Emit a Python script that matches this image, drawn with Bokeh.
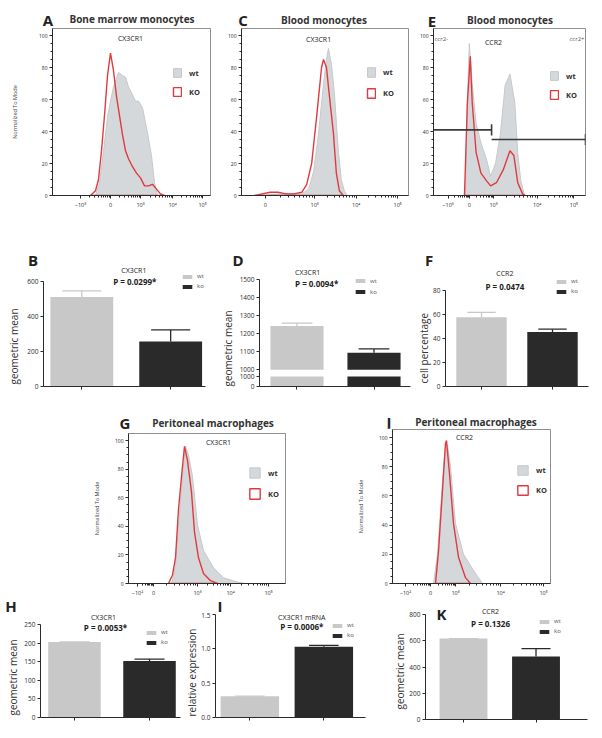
import math
from bokeh.plotting import figure
from bokeh.layouts import row, column
from bokeh.models import Range1d, Label, Legend, LegendItem, FixedTicker, Spacer, Title, Div
from bokeh.embed import file_html
from bokeh.resources import INLINE

FONT = "Open Sans"
RED = "#e03a40"
WT_FILL = "#d5d8da"
WT_LINE = "#c6c9cb"
WT_BAR = "#c8c8c8"
KO_BAR = "#2a2a2a"
INK = "#2b2b2b"

# ---------------- DATA ----------------
groups = ["wt", "ko"]
hist_y_ticks = [0, 20, 40, 60, 80, 100]

# A  CX3CR1, bone marrow monocytes (x in display channels, "0" tick at 0)
a_ticks = [-3.0, 0.0, 3.0, 6.2, 9.2]
a_tick_labels = ["−10³", "0", "10³", "10⁴", "10⁵"]
a_wt_x = [-1.5, -1.1, -0.7, -0.3, 0.0, 0.3, 0.8, 1.2, 1.5, 1.8, 2.2, 2.5, 2.8, 3.2, 3.7, 4.1, 4.4, 4.7]
a_wt_y = [0, 8, 28, 49, 59, 68, 77, 75, 74, 68, 63, 59, 59, 55, 39, 25, 8, 0]
a_ko_x = [-2.0, -1.5, -1.2, -0.9, -0.6, -0.3, 0.0, 0.3, 0.6, 0.9, 1.2, 1.5, 1.8, 2.2, 2.6, 3.0, 3.4, 3.8, 4.2, 4.6, 5.0, 5.4]
a_ko_y = [0, 3, 10, 28, 50, 75, 89, 78, 62, 50, 38, 28, 23, 18, 14, 11, 6, 6, 7, 4, 1, 0]

# C  CX3CR1, blood monocytes
c_ticks = [0.0, 5.0, 9.2, 13.4]
c_tick_labels = ["0", "10³", "10⁴", "10⁵"]
c_wt_x = [-0.5, 1.7, 3.7, 4.4, 4.9, 5.4, 5.9, 6.2, 6.4, 6.7, 7.0, 7.4, 7.7, 8.0, 8.3]
c_wt_y = [0, 1, 1, 4, 15, 39, 70, 85, 92, 82, 64, 28, 10, 3, 0]
c_ko_x = [-1.1, -0.3, 0.5, 1.3, 2.1, 2.9, 3.7, 4.2, 4.7, 5.2, 5.7, 5.9, 6.2, 6.5, 6.9, 7.2, 7.5, 7.9]
c_ko_y = [0, 1, 2, 2, 1, 1, 2, 7, 20, 49, 80, 85, 80, 62, 39, 14, 3, 0]

# E  CCR2, blood monocytes
e_ticks = [-2.2, 0.0, 2.5, 7.0, 10.8]
e_tick_labels = ["−10³", "0", "10³", "10⁴", "10⁵"]
e_wt_x = [-0.4, -0.2, 0.0, 0.3, 0.7, 1.2, 1.8, 2.2, 2.7, 3.2, 3.7, 4.2, 4.7, 5.0, 5.3, 5.7]
e_wt_y = [0, 60, 95, 70, 45, 33, 22, 12, 20, 38, 69, 76, 58, 27, 10, 0]
e_ko_x = [-0.5, -0.2, 0.1, 0.3, 0.7, 1.2, 1.8, 2.2, 2.8, 3.5, 4.2, 4.6, 5.0, 5.5, 5.8]
e_ko_y = [0, 58, 87, 58, 27, 14, 9, 6, 8, 16, 28, 25, 8, 1, 0]
e_gate_names = ["ccr2-", "ccr2+"]
e_gate_x0 = [-3.7, 2.3]
e_gate_x1 = [2.3, 12.0]
e_gate_y = [41, 35]

# G  CX3CR1, peritoneal macrophages
g_ticks = [-1.6, 0.0, 4.4, 7.7, 11.5]
g_tick_labels = ["−10²", "0", "10³", "10⁴", "10⁵"]
g_wt_x = [1.8, 2.2, 2.5, 2.9, 3.2, 3.5, 3.9, 4.4, 5.0, 6.0, 7.0, 8.4, 9.2]
g_wt_y = [0, 12, 40, 75, 96, 90, 75, 41, 23, 11, 4, 1, 0]
g_ko_x = [1.5, 1.9, 2.2, 2.5, 2.9, 3.1, 3.4, 3.8, 4.1, 4.5, 5.0, 5.7, 6.4]
g_ko_y = [0, 6, 18, 52, 82, 96, 86, 64, 36, 18, 7, 2, 0]

# J  CCR2, peritoneal macrophages
j_ticks = [-2.5, 0.0, 2.5, 7.0, 11.3]
j_tick_labels = ["−10²", "0", "10³", "10⁴", "10⁵"]
j_wt_x = [0.3, 0.7, 1.1, 1.4, 1.7, 2.0, 2.5, 3.3, 4.3, 5.2]
j_wt_y = [0, 20, 60, 88, 95, 80, 41, 20, 9, 0]
j_ko_x = [0.5, 0.8, 1.2, 1.5, 1.6, 1.9, 2.3, 2.8, 3.5, 4.0]
j_ko_y = [0, 22, 64, 96, 98, 75, 41, 18, 4, 0]

# bar panels: mean and mean + SEM
b_mean = [510, 256]
b_err = [545, 322]
d_mean = [1242, 1093]
d_err = [1258, 1115]
d_break = 1000
f_mean = [58, 45.7]
f_err = [62, 48]
h_mean = [203, 152]
h_err = [203, 157]
i_mean = [0.31, 1.03]
i_err = [0.31, 1.05]
k_mean = [617, 480]
k_err = [617, 540]


# ---------------- helpers ----------------
def make_fig(cell, frame, xr, yr):
    cx, cy, cw, ch = cell
    l, t, r, b = frame
    p = figure(width=cw, height=ch, x_range=Range1d(*xr), y_range=Range1d(*yr),
               title=None, output_backend="svg", toolbar_location=None,
               min_border_left=l - cx, min_border_right=cx + cw - r,
               min_border_top=t - cy, min_border_bottom=cy + ch - b)
    p.xgrid.visible = False
    p.ygrid.visible = False
    p.outline_line_color = None
    p.background_fill_color = "white"
    p.border_fill_color = "white"

    def fx(px):
        return xr[0] + (px - l) * (xr[1] - xr[0]) / (r - l)

    def fy(py):
        return yr[0] + (b - py) * (yr[1] - yr[0]) / (b - t)
    return p, fx, fy


def header(x0, y0, w, h, items):
    """A strip of panel letters / panel titles above a panel (page pixels)."""
    spans = []
    for (x, y, text, size, bold) in items:
        spans.append(
            f'<span style="position:absolute;left:{x - x0}px;top:{y - y0}px;'
            f'transform:translate(-50%,-50%);font-family:\'{FONT}\';font-size:{size}px;'
            f'font-weight:{700 if bold else 400};line-height:1;white-space:nowrap;'
            f'color:{"#222" if size > 12 else "#333"};">{text}</span>')
    html = (f'<div style="position:relative;width:{w}px;height:{h}px;margin:0;padding:0;">'
            + "".join(spans) + '</div>')
    return Div(text=html, width=w, height=h, margin=0)


def style_axis(ax, size=5, color=INK):
    ax.axis_line_color = color
    ax.axis_line_width = 1
    ax.major_tick_line_color = color
    ax.minor_tick_line_color = color
    ax.major_tick_in = 0
    ax.major_tick_out = 3
    ax.minor_tick_in = 0
    ax.minor_tick_out = 2
    ax.major_label_text_font = FONT
    ax.major_label_text_font_size = f"{size}px"
    ax.major_label_text_color = color
    ax.major_label_standoff = 2


def txt(p, fx, fy, at, text, size, bold=False, align="center", color=INK):
    p.add_layout(Label(x=fx(at[0]), y=fy(at[1]), text=text, text_font=FONT,
                       text_font_size=f"{size}px",
                       text_font_style="bold" if bold else "normal",
                       text_align=align, text_baseline="middle", text_color=color))


def add_legend(p, frame, items, left_top, gw, gh, lh, spacing, fsize, bold, color, standoff):
    l, t, r, b = frame
    height = 2 * max(gh, lh) + spacing
    leg = Legend(items=[LegendItem(label=lab, renderers=[rr]) for lab, rr in items],
                 location=(left_top[0] - l, b - (left_top[1] + height)),
                 glyph_width=gw, glyph_height=gh, label_height=lh, label_width=6,
                 spacing=spacing, padding=0, margin=0, border_line_color=None,
                 background_fill_alpha=0, label_text_font=FONT,
                 label_text_font_size=f"{fsize}px",
                 label_text_font_style="bold" if bold else "normal",
                 label_text_color=color, label_standoff=standoff)
    p.add_layout(leg)


def left_title(p, text, size, offset, standoff):
    p.add_layout(Title(text=text, align="left", offset=offset, standoff=standoff,
                       text_font=FONT, text_font_size=f"{size}px", text_font_style="normal",
                       text_color="#333", vertical_align="bottom"), "left")


def hist_panel(cell, frame, xr, yr, ticks, labels, wt_x, wt_y, ko_x, ko_y,
               marker, marker_at, leg_at, glyph, ylabel_standoff=None):
    p, fx, fy = make_fig(cell, frame, xr, yr)
    p.outline_line_color = "#8f8f8f"
    r_wt = p.patch(wt_x, wt_y, fill_color=WT_FILL, line_color=WT_LINE, line_width=1)
    r_ko = p.patch(ko_x, ko_y, fill_color=None, line_color=RED, line_width=1.4)
    minors = []
    for a, c in zip(ticks[:-1], ticks[1:]):
        minors += [a + (c - a) * math.log10(k) for k in range(2, 10)]
    p.xaxis.ticker = FixedTicker(ticks=ticks, minor_ticks=minors)
    p.xaxis.major_label_overrides = {tk: s for tk, s in zip(ticks, labels)}
    p.yaxis.ticker = FixedTicker(ticks=hist_y_ticks, minor_ticks=list(range(0, 101, 5)))
    style_axis(p.xaxis[0], 5.5)
    style_axis(p.yaxis[0], 5)
    txt(p, fx, fy, marker_at, marker, 7, color="#222")
    add_legend(p, frame, [("wt", r_wt), ("KO", r_ko)], leg_at, glyph[0], glyph[1],
               glyph[1], glyph[2], 7.5, True, "#333", 7)
    if ylabel_standoff is not None:
        ax = p.yaxis[0]
        ax.axis_label = "Normalized To Mode"
        ax.axis_label_text_font = FONT
        ax.axis_label_text_font_size = "5.5px"
        ax.axis_label_text_font_style = "normal"
        ax.axis_label_text_color = "#444"
        ax.axis_label_standoff = ylabel_standoff
    return p, fx, fy


def bar_panel(cell, frame, xr, yr, bounds, yticks, ytick_labels, mean, err, width, cap,
              line1, line1_at, line2, line2_at, leg_at, leg_pitch,
              ylabel, ylabel_offset, ylabel_standoff, letter=None, letter_at=None):
    p, fx, fy = make_fig(cell, frame, xr, yr)
    xs = [i + 1 for i in range(len(groups))]
    colors = [WT_BAR, KO_BAR]
    rs = []
    for i in range(len(groups)):
        rs.append(p.vbar(x=[xs[i]], top=[mean[i]], width=width,
                         fill_color=colors[i], line_color=None))
    p.segment(x0=xs, y0=mean, x1=xs, y1=err, line_color=colors, line_width=1.3)
    p.segment(x0=[x - cap for x in xs], y0=err, x1=[x + cap for x in xs], y1=err,
              line_color=colors, line_width=1.3)
    p.yaxis.ticker = FixedTicker(ticks=yticks)
    p.yaxis.major_label_overrides = {tk: s for tk, s in zip(yticks, ytick_labels)}
    p.yaxis.bounds = bounds
    p.xaxis.ticker = FixedTicker(ticks=xs)
    p.xaxis.major_label_overrides = {x: " " for x in xs}
    style_axis(p.yaxis[0], 6.5)
    style_axis(p.xaxis[0], 5)
    if letter is not None:
        txt(p, fx, fy, letter_at, letter, 15, bold=True, color="#222")
    txt(p, fx, fy, line1_at, line1, 7, color="#222")
    txt(p, fx, fy, line2_at, line2, 8, bold=True, color="#222")
    add_legend(p, frame, [(g, rr) for g, rr in zip(groups, rs)], leg_at, 12, 5,
               leg_pitch - 2, 2, 6, False, "#555", 4)
    left_title(p, ylabel, 10, ylabel_offset, ylabel_standoff)
    return p


# ---------------- row 1: histograms A, C, E ----------------
hA = header(0, 0, 224, 27, [(48, 20, "A", 15, True), (132, 19, "Bone marrow monocytes", 10, True)])
pA, _, _ = hist_panel((0, 27, 224, 193), (52, 28, 210, 195), (-5.8, 10.0), (0, 104.4),
                      a_ticks, a_tick_labels, a_wt_x, a_wt_y, a_ko_x, a_ko_y,
                      "CX3CR1", (130, 38), (172, 67), (10, 11, 8), ylabel_standoff=17)
hC = header(224, 0, 192, 27, [(243, 20, "C", 15, True), (324, 20, "Blood monocytes", 10, True)])
pC, _, _ = hist_panel((224, 27, 192, 193), (239, 28, 408, 195), (-2.4, 14.5), (0, 104.4),
                      c_ticks, c_tick_labels, c_wt_x, c_wt_y, c_ko_x, c_ko_y,
                      "CX3CR1", (317, 39), (364, 66), (10, 12, 9))
hE = header(416, 0, 184, 27, [(432, 21, "E", 15, True), (510, 20, "Blood monocytes", 10, True)])
pE, fxE, fyE = hist_panel((416, 27, 184, 193), (428, 28, 585, 195), (-3.7, 12.0), (0, 104.4),
                          e_ticks, e_tick_labels, e_wt_x, e_wt_y, e_ko_x, e_ko_y,
                          "CCR2", (490, 42), (544, 70), (10, 11, 8))
pE.segment(x0=e_gate_x0, y0=e_gate_y, x1=e_gate_x1, y1=e_gate_y, line_color="#3a3a3a", line_width=1.6)
pE.segment(x0=e_gate_x1, y0=[v - 3.5 for v in e_gate_y], x1=e_gate_x1, y1=[v + 3.5 for v in e_gate_y],
           line_color="#3a3a3a", line_width=1.6)
txt(pE, fxE, fyE, (429, 38), e_gate_names[0], 6, align="left", color="#555")
txt(pE, fxE, fyE, (584, 38), e_gate_names[1], 6, align="right", color="#555")

# ---------------- row 2: bars B, D, F ----------------
hB = header(0, 220, 216, 46, [(33, 260, "B", 15, True)])
pB = bar_panel((0, 266, 216, 134), (40, 266, 205, 389), (0.569, 2.392), (0, 683.3), (0, 600),
               [0, 200, 400, 600], ["0", "200", "400", "600"], b_mean, b_err, 0.707, 0.22,
               "CX3CR1", (132, 270), "P = 0.0299*", (133, 281),
               (178, 275), 10, "geometric mean", 2, 8)

# D with broken axis: upper segment on main range, lower segment on "low" range
hD = header(216, 220, 198, 46, [(238, 260, "D", 15, True)])
d_cell, d_frame = (216, 266, 198, 134), (257, 266, 410, 387)
d_yr = (906.6, 1571.4)
d_low = (0, 12100)
pD, fxD, fyD = make_fig(d_cell, d_frame, (0.513, 2.474), d_yr)
pD.extra_y_ranges = {"low": Range1d(*d_low)}
xsD = [i + 1 for i in range(len(groups))]
colsD = [WT_BAR, KO_BAR]
rsD = []
for i in range(len(groups)):
    rsD.append(pD.vbar(x=[xsD[i]], bottom=[d_break], top=[d_mean[i]], width=0.69,
                       fill_color=colsD[i], line_color=None))
    pD.vbar(x=[xsD[i]], bottom=[0], top=[d_break], width=0.69, fill_color=colsD[i],
            line_color=None, y_range_name="low")
pD.segment(x0=xsD, y0=d_mean, x1=xsD, y1=d_err, line_color=colsD, line_width=1.3)
pD.segment(x0=[x - 0.2 for x in xsD], y0=d_err, x1=[x + 0.2 for x in xsD], y1=d_err,
           line_color=colsD, line_width=1.3)


def low_to_main(v):
    return d_yr[0] + (v - d_low[0]) * (d_yr[1] - d_yr[0]) / (d_low[1] - d_low[0])


d_upper_ticks = [1000, 1100, 1200, 1300, 1400, 1500]
d_lower_ticks = [0, 1000]
d_ticks = [low_to_main(v) for v in d_lower_ticks] + d_upper_ticks
d_labels = [str(v) for v in d_lower_ticks] + [str(v) for v in d_upper_ticks]
pD.yaxis.ticker = FixedTicker(ticks=d_ticks)
pD.yaxis.major_label_overrides = {tk: s for tk, s in zip(d_ticks, d_labels)}
pD.yaxis.bounds = (d_yr[0], 1500)
pD.xaxis.ticker = FixedTicker(ticks=xsD)
pD.xaxis.major_label_overrides = {x: " " for x in xsD}
style_axis(pD.yaxis[0], 6.5)
style_axis(pD.xaxis[0], 5)
txt(pD, fxD, fyD, (293, 272), "CX3CR1", 7, align="left", color="#222")
txt(pD, fxD, fyD, (293, 283), "P = 0.0094*", 8, bold=True, align="left", color="#222")
add_legend(pD, d_frame, [(g, rr) for g, rr in zip(groups, rsD)], (352, 277), 12, 5, 9, 2,
           6, False, "#555", 4)
left_title(pD, "geometric mean", 10, 0, 4)

hF = header(414, 220, 186, 46, [(429, 260, "F", 15, True)])
pF = bar_panel((414, 266, 186, 134), (441, 266, 588, 389), (0.493, 2.507), (0, 100.4), (0, 80),
               [0, 20, 40, 60, 80], ["0", "20", "40", "60", "80"], f_mean, f_err, 0.71, 0.2,
               "CCR2", (502, 273), "P = 0.0474", (502, 286),
               (551, 280), 10, "cell percentage", 3, 0)

# ---------------- row 3: histograms G, J ----------------
hG = header(88, 400, 212, 32, [(125, 423, "G", 15, True), (213, 423, "Peritoneal macrophages", 10, True)])
pG, _, _ = hist_panel((88, 432, 212, 168), (128, 433, 285, 583), (-2.5, 13.2), (0, 105),
                      g_ticks, g_tick_labels, g_wt_x, g_wt_y, g_ko_x, g_ko_y,
                      "CX3CR1", (218, 442), (248, 466), (13, 13, 8), ylabel_standoff=11)
hJ = header(352, 400, 248, 28, [(389, 422, "J", 15, True), (476, 422, "Peritoneal macrophages", 10, True)])
pJ, _, _ = hist_panel((352, 428, 248, 172), (392, 429, 550, 583), (-3.8, 12.0), (0, 105.5),
                      j_ticks, j_tick_labels, j_wt_x, j_wt_y, j_ko_x, j_ko_y,
                      "CCR2", (464, 437), (516, 464), (13, 12, 8), ylabel_standoff=11)

# ---------------- row 4: bars H, I, K ----------------
hH = header(0, 600, 182, 12, [(11, 606, "H", 15, True)])
pH = bar_panel((0, 612, 182, 124), (40, 612, 180, 717), (0.547, 2.413), (0, 282), (0, 250),
               [0, 50, 100, 150, 200, 250], ["0", "50", "100", "150", "200", "250"],
               h_mean, h_err, 0.70, 0.2,
               "CX3CR1", (103, 617), "P = 0.0053*", (105, 627),
               (145, 628), 10, "geometric mean", 2, 4)
hI = header(182, 600, 208, 12, [(220, 606, "I", 15, True)])
pI = bar_panel((182, 612, 208, 124), (212, 612, 365, 717), (0.536, 2.563), (0, 1.529), (0, 1.5),
               [0, 0.5, 1.0, 1.5], ["0.0", "0.5", "1.0", "1.5"], i_mean, i_err, 0.79, 0.2,
               "CX3CR1 mRNA", (300, 617), "P = 0.0006*", (300, 626),
               (328, 625), 8, "relative expression", 1, 0)
pK = bar_panel((390, 600, 210, 136), (425, 606, 587, 719), (0.476, 2.71), (0, 862), (0, 800),
               [0, 200, 400, 600, 800], ["0", "200", "400", "600", "800"], k_mean, k_err, 0.66, 0.2,
               "CCR2", (490, 611), "P = 0.1326", (490, 623),
               (538, 617), 10, "geometric mean", 10, 0, letter="K", letter_at=(441, 613))

layout = column(
    row(column(hA, pA), column(hC, pC), column(hE, pE)),
    row(column(hB, pB), column(hD, pD), column(hF, pF)),
    row(Spacer(width=88, height=200), column(hG, pG), Spacer(width=52, height=200), column(hJ, pJ)),
    row(column(hH, pH), column(hI, pI), pK),
)

open("out.html", "w").write(file_html(layout, INLINE))
